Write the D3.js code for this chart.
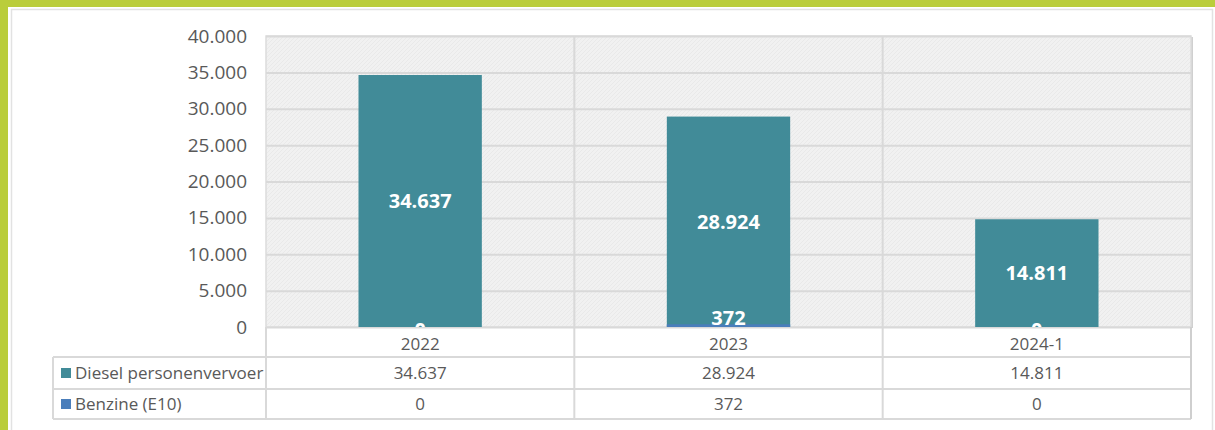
<!DOCTYPE html>
<html><head><meta charset="utf-8">
<script src="https://cdn.jsdelivr.net/npm/d3@7"></script>
<style>html,body{margin:0;padding:0;background:#fff;overflow:hidden}</style>
</head><body>
<svg id="c" width="1215" height="430"></svg>
<script>
const categories = ["2022", "2023", "2024-1"];
const seriesNames = ["Diesel personenvervoer", "Benzine (E10)"];
const diesel = [34637, 28924, 14811];
const benzine = [0, 372, 0];
const yTicks = [0, 5000, 10000, 15000, 20000, 25000, 30000, 35000, 40000];
const seriesColors = ["#418b98", "#4a7ebb"];

const fmt = v => d3.format(",")(v).replace(/,/g, ".");
const svg = d3.select("#c");
const font = "'Open Sans', 'Noto Sans', sans-serif";
const textCol = "#595959";

// frame
svg.append("rect").attr("x",0).attr("y",0).attr("width",1215).attr("height",430).attr("fill","#fff");
svg.append("rect").attr("x",0).attr("y",0).attr("width",1215).attr("height",7).attr("fill","#bacd3b");
svg.append("rect").attr("x",0).attr("y",0).attr("width",8).attr("height",430).attr("fill","#bacd3b");
svg.append("rect").attr("x",11.5).attr("y",9.5).attr("width",1201).attr("height",430).attr("fill","#fff").attr("stroke","#e2e2e2").attr("stroke-width",1.5);

const L = 266, R = 1191, T = 36, B = 327;
const x = d3.scaleBand().domain(categories).range([L, R]).padding(0);
const y = d3.scaleLinear().domain([0, 40000]).range([B, T]);
const barW = x.bandwidth() * 0.4;

// hatch pattern
const defs = svg.append("defs");
const pat = defs.append("pattern").attr("id","hatch").attr("patternUnits","userSpaceOnUse").attr("width",4).attr("height",4);
pat.append("rect").attr("width",4).attr("height",4).attr("fill","#f1f1f1");
pat.append("path").attr("d","M0,4 L4,0").attr("stroke","#e7e7e7").attr("stroke-width",0.8);
defs.append("clipPath").attr("id","plotclip").append("rect").attr("x",L).attr("y",T).attr("width",R-L).attr("height",B-T);

// plot background with shadow
svg.append("rect").attr("x",L+1).attr("y",T+1).attr("width",R-L+1).attr("height",B-T).attr("fill","#d0d0d0");
svg.append("rect").attr("x",L).attr("y",T).attr("width",R-L).attr("height",B-T).attr("fill","url(#hatch)").attr("stroke","#dcdcdc").attr("stroke-width",1.5);

// gridlines via axis
const grid = svg.append("g").attr("transform",`translate(${L},0)`)
  .call(d3.axisLeft(y).tickValues(yTicks).tickSize(-(R-L)).tickFormat(""));
grid.select(".domain").remove();
grid.selectAll("line").attr("stroke","#d9d9d9").attr("stroke-width",2);

// vertical category separators
svg.append("g").selectAll("line").data(categories.slice(1)).join("line")
  .attr("x1",d=>x(d)).attr("x2",d=>x(d)).attr("y1",T).attr("y2",B)
  .attr("stroke","#d9d9d9").attr("stroke-width",2);

// y tick labels
const yax = svg.append("g").attr("transform",`translate(${L},0)`)
  .call(d3.axisLeft(y).tickValues(yTicks).tickSize(0).tickPadding(19).tickFormat(fmt));
yax.select(".domain").remove();
yax.selectAll("text").attr("fill",textCol).style("font-family",font).style("font-size","19px");

// bars
const plot = svg.append("g").attr("clip-path","url(#plotclip)");
plot.selectAll("rect.d").data(diesel).join("rect").attr("class","d")
  .attr("x",(d,i)=>x(categories[i])+(x.bandwidth()-barW)/2)
  .attr("y",d=>y(d)).attr("width",barW).attr("height",d=>y(0)-y(d))
  .attr("fill",seriesColors[0]);
plot.selectAll("rect.b").data(benzine).join("rect").attr("class","b")
  .attr("x",(d,i)=>x(categories[i])+(x.bandwidth()-barW)/2)
  .attr("y",d=>y(d)).attr("width",barW).attr("height",d=>y(0)-y(d))
  .attr("fill",seriesColors[1]);

// data labels
plot.selectAll("text.dl").data(diesel).join("text").attr("class","dl")
  .attr("x",(d,i)=>x(categories[i])+x.bandwidth()/2)
  .attr("y",d=>y(d/2)).attr("dy","0.35em").attr("text-anchor","middle")
  .attr("fill","#fff").style("font-family",font).style("font-weight","bold").style("font-size","20px")
  .text(fmt);
plot.selectAll("text.bl").data(benzine).join("text").attr("class","bl")
  .attr("x",(d,i)=>x(categories[i])+x.bandwidth()/2)
  .attr("y",d=> d>0 ? Math.min(y(d/2), y(0)-9) : y(0)+3).attr("dy","0.35em").attr("text-anchor","middle")
  .attr("fill","#fff").style("font-family",font).style("font-weight","bold").style("font-size","20px")
  .text(fmt);

// data table
const rowTops = [B, 357, 389, 419];
const tableLeft = 53;
const lc = "#d9d9d9";
const tg = svg.append("g");
[1,2,3].forEach(k => {
  tg.append("line").attr("x1",tableLeft).attr("x2",R).attr("y1",rowTops[k]).attr("y2",rowTops[k]).attr("stroke",lc).attr("stroke-width",2);
});
tg.append("line").attr("x1",tableLeft).attr("x2",tableLeft).attr("y1",rowTops[1]).attr("y2",rowTops[3]).attr("stroke",lc).attr("stroke-width",2);
tg.selectAll("line.v").data(categories).join("line").attr("class","v")
  .attr("x1",d=>x(d)).attr("x2",d=>x(d)).attr("y1",B).attr("y2",rowTops[3]).attr("stroke",lc).attr("stroke-width",2);
tg.append("line").attr("x1",R).attr("x2",R).attr("y1",B).attr("y2",rowTops[3]).attr("stroke","#cfcfcf").attr("stroke-width",2);

// category labels
tg.selectAll("text.cat").data(categories).join("text").attr("class","cat")
  .attr("x",d=>x(d)+x.bandwidth()/2).attr("y",(rowTops[0]+rowTops[1])/2+2).attr("dy","0.35em")
  .attr("text-anchor","middle").attr("fill",textCol).style("font-family",font).style("font-size","17px").text(d=>d);

const rows = [diesel, benzine];
rows.forEach((vals, r) => {
  const cy = (rowTops[r+1] + rowTops[r+2]) / 2;
  tg.append("rect").attr("x",61).attr("y",cy-5).attr("width",10).attr("height",10).attr("fill",seriesColors[r]);
  tg.append("text").attr("x",75).attr("y",cy).attr("dy","0.35em").attr("fill",textCol)
    .style("font-family",font).style("font-size","17px").text(seriesNames[r]);
  tg.selectAll(null).data(vals).join("text")
    .attr("x",(d,i)=>x(categories[i])+x.bandwidth()/2).attr("y",cy).attr("dy","0.35em")
    .attr("text-anchor","middle").attr("fill",textCol).style("font-family",font).style("font-size","17px").text(fmt);
});
</script>
</body></html>
